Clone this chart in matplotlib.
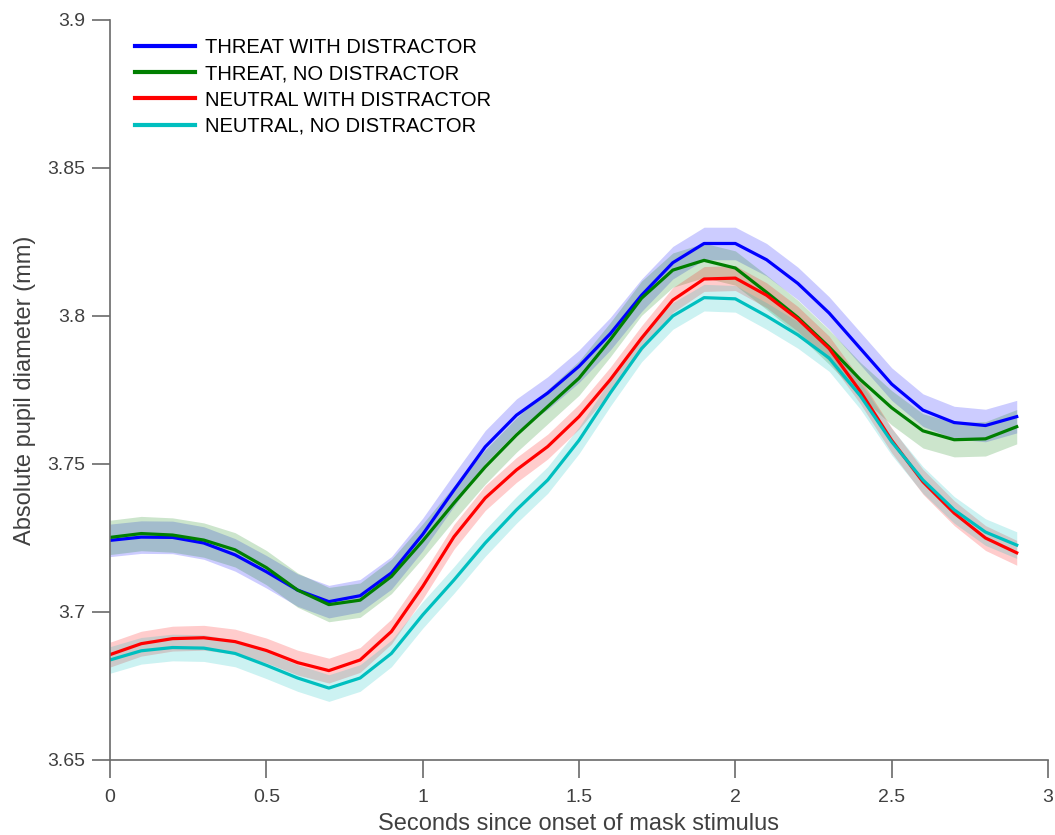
import numpy as np
import matplotlib
matplotlib.use('Agg')
import matplotlib.pyplot as plt

# time axis (s) and mean pupil diameter (mm) per condition
t = np.round(np.arange(0, 3.0, 0.1), 1)

threat_dist = [3.7242, 3.7253, 3.7252, 3.7233, 3.7193, 3.7136, 3.7074, 3.7035, 3.7055, 3.7132,
               3.7262, 3.7412, 3.7558, 3.7665, 3.7740, 3.7830, 3.7940, 3.8070, 3.8180, 3.8245,
               3.8245, 3.8190, 3.8110, 3.8010, 3.7890, 3.7770, 3.7682, 3.7640, 3.7630, 3.7660]
threat_nodist = [3.7252, 3.7265, 3.7260, 3.7243, 3.7210, 3.7150, 3.7074, 3.7025, 3.7040, 3.7120,
                 3.7240, 3.7368, 3.7490, 3.7598, 3.7694, 3.7790, 3.7920, 3.8060, 3.8155, 3.8188,
                 3.8162, 3.8080, 3.7995, 3.7895, 3.7785, 3.7690, 3.7612, 3.7582, 3.7585, 3.7626]
neutral_dist = [3.6856, 3.6893, 3.6910, 3.6913, 3.6900, 3.6870, 3.6829, 3.6802, 3.6838, 3.6934,
                3.7086, 3.7254, 3.7385, 3.7480, 3.7559, 3.7660, 3.7785, 3.7925, 3.8054, 3.8125,
                3.8128, 3.8070, 3.7990, 3.7890, 3.7745, 3.7580, 3.7440, 3.7334, 3.7250, 3.7200]
neutral_nodist = [3.6838, 3.6869, 3.6880, 3.6878, 3.6860, 3.6820, 3.6777, 3.6743, 3.6777, 3.6860,
                  3.6990, 3.7108, 3.7233, 3.7345, 3.7446, 3.7580, 3.7740, 3.7890, 3.8000, 3.8062,
                  3.8058, 3.8000, 3.7936, 3.7858, 3.7730, 3.7575, 3.7446, 3.7345, 3.7270, 3.7226]

# standard error half-widths of the shaded bands
sem = [0.0055, 0.0058, 0.0042, 0.0045]

labels = ['THREAT WITH DISTRACTOR', 'THREAT, NO DISTRACTOR',
          'NEUTRAL WITH DISTRACTOR', 'NEUTRAL, NO DISTRACTOR']
colors = ['#0000ff', '#007f00', '#ff0000', '#00bfbf']
series = [threat_dist, threat_nodist, neutral_dist, neutral_nodist]

plt.rcParams['font.family'] = ['Liberation Sans', 'DejaVu Sans']

fig = plt.figure(figsize=(10.55, 8.35), dpi=100)
ax = fig.add_axes([110 / 1055, 1 - 760 / 835, 938 / 1055, 740 / 835])

for y, s, c, lab in zip(series, sem, colors, labels):
    y = np.array(y)
    ax.fill_between(t, y - s, y + s, color=c, alpha=0.2, linewidth=0)
    ax.plot(t, y, color=c, linewidth=2.3, label=lab)

ax.set_xlim(0, 3)
ax.set_ylim(3.65, 3.9)
ax.set_xticks([0, 0.5, 1, 1.5, 2, 2.5, 3])
ax.set_xticklabels(['0', '0.5', '1', '1.5', '2', '2.5', '3'])
ax.set_yticks([3.65, 3.7, 3.75, 3.8, 3.85, 3.9])
ax.set_yticklabels(['3.65', '3.7', '3.75', '3.8', '3.85', '3.9'])

axis_col = '#6a6a6a'
text_col = '#404040'
for side in ['top', 'right']:
    ax.spines[side].set_visible(False)
for side in ['left', 'bottom']:
    ax.spines[side].set_color(axis_col)
    ax.spines[side].set_linewidth(1.2)
ax.tick_params(direction='out', length=13, width=1.2, color=axis_col,
               labelcolor=text_col, labelsize=14, pad=5)
ax.tick_params(axis='x', pad=8)

ax.set_xlabel('Seconds since onset of mask stimulus', fontsize=17, color=text_col)
ax.set_ylabel('Absolute pupil diameter (mm)', fontsize=17, color=text_col)
ax.xaxis.set_label_coords(0.5, -0.071)
ax.yaxis.set_label_coords(-0.079, 0.5)

leg = ax.legend(loc='upper left', bbox_to_anchor=(25 / 938, 1 - 18 / 740),
                frameon=False, fontsize=14.5, handlelength=3.0, handletextpad=0.5,
                labelspacing=0.36, borderpad=0, borderaxespad=0)
for line in leg.get_lines():
    line.set_linewidth(3)

fig.savefig('out.png', dpi=100, facecolor='white')
